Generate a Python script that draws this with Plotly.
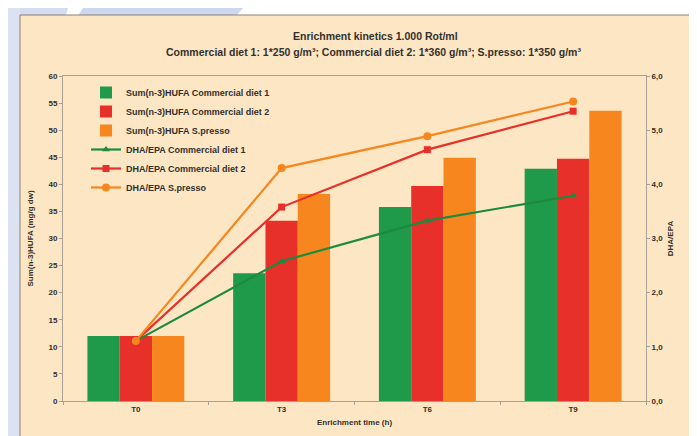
import plotly.graph_objects as go

categories = ["T0", "T3", "T6", "T9"]

hufa_diet1 = [12.0, 23.6, 35.8, 42.9]
hufa_diet2 = [12.0, 33.3, 39.7, 44.7]
hufa_spresso = [12.0, 38.2, 44.9, 53.6]

dha_epa_diet1 = [1.11, 2.58, 3.33, 3.79]
dha_epa_diet2 = [1.11, 3.58, 4.64, 5.35]
dha_epa_spresso = [1.11, 4.30, 4.89, 5.53]

title_line1 = "Enrichment kinetics 1.000 Rot/ml"
title_line2 = "Commercial diet 1: 1*250 g/m³; Commercial diet 2: 1*360 g/m³; S.presso: 1*350 g/m³"

GREEN = "#1f9a4a"
RED = "#e8302a"
ORANGE = "#f7861f"
LGREEN = "#1e8a3e"
TXT = "#34302c"
AXC = "#a8a096"
PANEL = "#fce6c4"

W, H = 697, 436
ML, MR, MT, MB = 55, 59, 68, 43
PW, PH = W - ML - MR, H - MT - MB


def px(x):
    return (x - ML) / PW


def py(y):
    return (H - MB - y) / PH


fig = go.Figure()
fig.add_trace(go.Bar(x=categories, y=hufa_diet1, name="Sum(n-3)HUFA Commercial diet 1",
                     marker=dict(color=GREEN, line=dict(width=0))))
fig.add_trace(go.Bar(x=categories, y=hufa_diet2, name="Sum(n-3)HUFA Commercial diet 2",
                     marker=dict(color=RED, line=dict(width=0))))
fig.add_trace(go.Bar(x=categories, y=hufa_spresso, name="Sum(n-3)HUFA S.presso",
                     marker=dict(color=ORANGE, line=dict(width=0))))
fig.add_trace(go.Scatter(x=categories, y=dha_epa_diet1, name="DHA/EPA Commercial diet 1",
                         yaxis="y2", mode="lines+markers",
                         line=dict(color=LGREEN, width=2.2),
                         marker=dict(symbol="triangle-up", size=7, color=LGREEN)))
fig.add_trace(go.Scatter(x=categories, y=dha_epa_diet2, name="DHA/EPA Commercial diet 2",
                         yaxis="y2", mode="lines+markers",
                         line=dict(color=RED, width=2.2),
                         marker=dict(symbol="square", size=7, color=RED)))
fig.add_trace(go.Scatter(x=categories, y=dha_epa_spresso, name="DHA/EPA S.presso",
                         yaxis="y2", mode="lines+markers",
                         line=dict(color=ORANGE, width=2.2),
                         marker=dict(symbol="circle", size=8, color=ORANGE)))

shapes = [
    # light blue decoration
    dict(type="path", xref="paper", yref="paper", layer="below",
         path=f"M {px(0)},{py(0)} L {px(60)},{py(0)} L {px(0)},{py(200)} Z",
         fillcolor="#d4ddf0", line=dict(width=0)),
    dict(type="path", xref="paper", yref="paper", layer="below",
         path=f"M {px(75)},{py(0)} L {px(235)},{py(0)} L {px(228)},{py(8)} L {px(70)},{py(8)} Z",
         fillcolor="#cdd7ee", line=dict(width=0)),
    dict(type="rect", xref="paper", yref="paper", layer="below",
         x0=px(0), x1=px(12), y0=py(0), y1=py(H),
         fillcolor="#dbe3f3", line=dict(width=0)),
    # panel
    dict(type="rect", xref="paper", yref="paper", layer="below",
         x0=px(12), x1=px(692), y0=py(7), y1=py(H + 5),
         fillcolor=PANEL, line=dict(color="#8a8070", width=1)),
]

fig.update_layout(
    width=W, height=H,
    margin=dict(l=ML, r=MR, t=MT, b=MB, pad=0),
    paper_bgcolor="white",
    plot_bgcolor="rgba(0,0,0,0)",
    font=dict(family="Liberation Sans, Arial, sans-serif", size=8, color=TXT, weight="bold"),
    separators=", ",
    barmode="group",
    bargap=0.335,
    bargroupgap=0,
    showlegend=True,
    legend=dict(x=px(78), y=py(70), xanchor="left", yanchor="top",
                bgcolor="rgba(0,0,0,0)", font=dict(size=9, color=TXT, weight="bold"),
                tracegroupgap=0, itemwidth=30),
    shapes=shapes,
    annotations=[
        dict(text=title_line1, xref="paper", yref="paper", x=px(367), y=py(28),
             xanchor="center", yanchor="middle", showarrow=False,
             font=dict(size=10.5, color=TXT, weight="bold")),
        dict(text=title_line2, xref="paper", yref="paper", x=px(365), y=py(44),
             xanchor="center", yanchor="middle", showarrow=False,
             font=dict(size=10.5, color=TXT, weight="bold")),
    ],
    xaxis=dict(
        type="category",
        showline=True, linecolor=AXC, linewidth=1, mirror=True,
        ticks="outside", ticklen=3, tickcolor=AXC, tickson="boundaries",
        showgrid=False, zeroline=False,
        tickfont=dict(size=8, color=TXT, weight="bold"),
        title=dict(text="Enrichment time (h)", font=dict(size=8, color=TXT, weight="bold"), standoff=6),
    ),
    yaxis=dict(
        range=[0, 60], dtick=5, tick0=0,
        showline=True, linecolor=AXC, linewidth=1, mirror=True,
        ticks="outside", ticklen=3, tickcolor=AXC,
        showgrid=False, zeroline=False,
        tickfont=dict(size=8, color=TXT, weight="bold"),
        title=dict(text="Sum(n-3)HUFA (mg/g dw)", font=dict(size=8, color=TXT, weight="bold"), standoff=13),
    ),
    yaxis2=dict(
        range=[0, 6], dtick=1, tick0=0, tickformat=".1f",
        overlaying="y", side="right",
        showline=True, linecolor=AXC, linewidth=1,
        ticks="outside", ticklen=3, tickcolor=AXC,
        showgrid=False, zeroline=False,
        tickfont=dict(size=8, color=TXT, weight="bold"),
        title=dict(text="DHA/EPA", font=dict(size=8, color=TXT, weight="bold"), standoff=5),
    ),
)

fig.write_html("out.html")
